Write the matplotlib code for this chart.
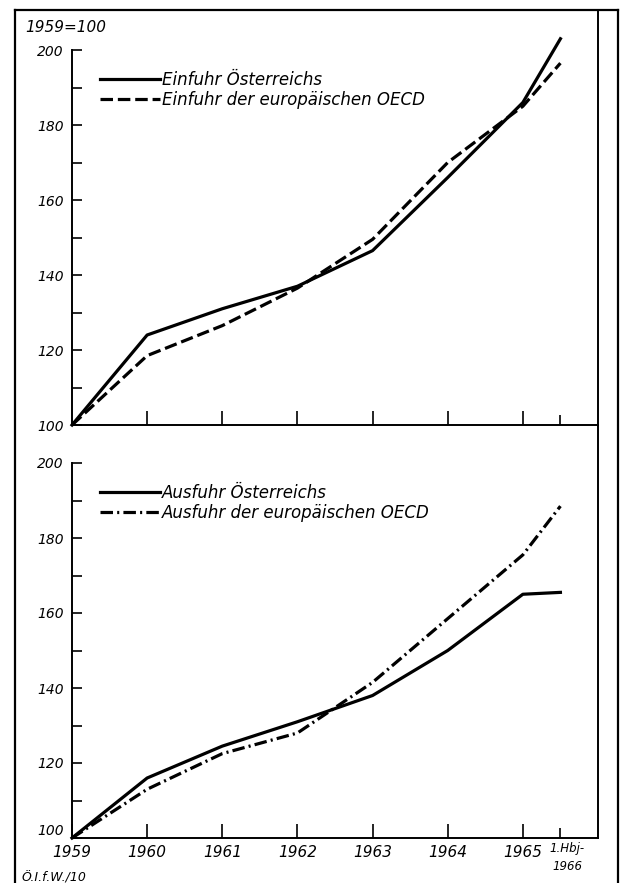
import matplotlib
matplotlib.use('Agg')
import matplotlib.pyplot as plt
import matplotlib.transforms as mtransforms
from matplotlib.lines import Line2D

plt.rcParams['font.family'] = ['DejaVu Sans']
plt.rcParams['font.style'] = 'oblique'
plt.rcParams['lines.scale_dashes'] = False

# Jahre, letzter Punkt = 1. Halbjahr 1966
years = [1959, 1960, 1961, 1962, 1963, 1964, 1965, 1965.5]
year_labels = ['1959', '1960', '1961', '1962', '1963', '1964', '1965']

einfuhr_oe = [100, 124, 131, 137, 146.5, 166, 186, 203]
einfuhr_oecd = [100, 118.5, 126.5, 136.5, 149.5, 170, 185, 196.5]
ausfuhr_oe = [100, 116, 124.5, 131, 138, 150, 165, 165.5]
ausfuhr_oecd = [100, 113, 122.5, 128, 141.5, 158.5, 175.5, 188.5]

W, H = 625, 883
fig = plt.figure(figsize=(W / 100, H / 100), dpi=100)

def px_axes(x0, y_top, x1, y_bot):
    return fig.add_axes([x0 / W, 1 - y_bot / H, (x1 - x0) / W, (y_bot - y_top) / H])

ax1 = px_axes(72, 50, 598, 425)
ax2 = px_axes(72, 463, 598, 838)

for ax in (ax1, ax2):
    ax.set_xlim(1959, 1966)
    ax.set_ylim(100, 200)
    ax.set_yticks(range(100, 201, 20))
    ax.set_yticks(range(110, 200, 20), minor=True)
    ax.set_xticks(years[1:-1])
    ax.set_xticks([1965.5], minor=True)
    ax.tick_params(axis='y', which='both', direction='in', length=7, width=1.2, labelsize=10, pad=6)
    ax.tick_params(axis='x', which='major', direction='in', length=10, width=1.2)
    ax.tick_params(axis='x', which='minor', direction='in', length=7, width=1.2)
    for s in ('top', 'right'):
        ax.spines[s].set_visible(False)
    for s in ('left', 'bottom'):
        ax.spines[s].set_linewidth(1.4)
    ax.patch.set_visible(False)

ax1.tick_params(axis='x', which='both', labelbottom=False)
ax2.set_xticks(years[:-1])
ax2.set_xticklabels(year_labels)
ax2.tick_params(axis='x', which='major', labelsize=11, pad=5)
ax2.set_xticklabels(['1.Hbj-\n1966'], minor=True)
ax2.tick_params(axis='x', which='minor', labelsize=8.5, pad=3)
shift = mtransforms.ScaledTranslation(7 / 100, 0, fig.dpi_scale_trans)
for lbl in ax2.get_xticklabels(minor=True):
    lbl.set_transform(lbl.get_transform() + shift)
    lbl.set_linespacing(1.5)
# "100" unten etwas anheben, damit es nicht in "1959" läuft
ax2.get_yticklabels()[0].set_verticalalignment('bottom')

ax1.plot(years, einfuhr_oe, color='black', lw=2.3, clip_on=False, label='Einfuhr Österreichs')
ax1.plot(years, einfuhr_oecd, color='black', lw=2.3, dashes=(9, 3.5), clip_on=False,
         label='Einfuhr der europäischen OECD')
ax2.plot(years, ausfuhr_oe, color='black', lw=2.3, clip_on=False, label='Ausfuhr Österreichs')
ax2.plot(years, ausfuhr_oecd, color='black', lw=2.3, dashes=(9, 3, 1.5, 3), clip_on=False,
         label='Ausfuhr der europäischen OECD')

for ax in (ax1, ax2):
    ax.legend(loc='upper left', bbox_to_anchor=(0.053, 0.945), frameon=False,
              fontsize=12, handlelength=3.6, handletextpad=0.1, labelspacing=0.15,
              borderpad=0, borderaxespad=0)

fig.text(25 / W, 1 - 28 / H, '1959=100', fontsize=11, va='center', ha='left')
fig.text(22 / W, 1 - 878 / H, 'Ö.I.f.W./10', fontsize=9, va='center', ha='left')

# Rahmen
def fig_line(xs, ys, lw=1.6):
    fig.add_artist(Line2D([x / W for x in xs], [1 - y / H for y in ys],
                          color='black', lw=lw, transform=fig.transFigure))

fig_line([15, 15], [10, 883])
fig_line([15, 618], [10, 10])
fig_line([618, 618], [10, 883])
fig_line([598, 598], [10, 838], lw=1.4)

fig.savefig('out.png', dpi=100)
